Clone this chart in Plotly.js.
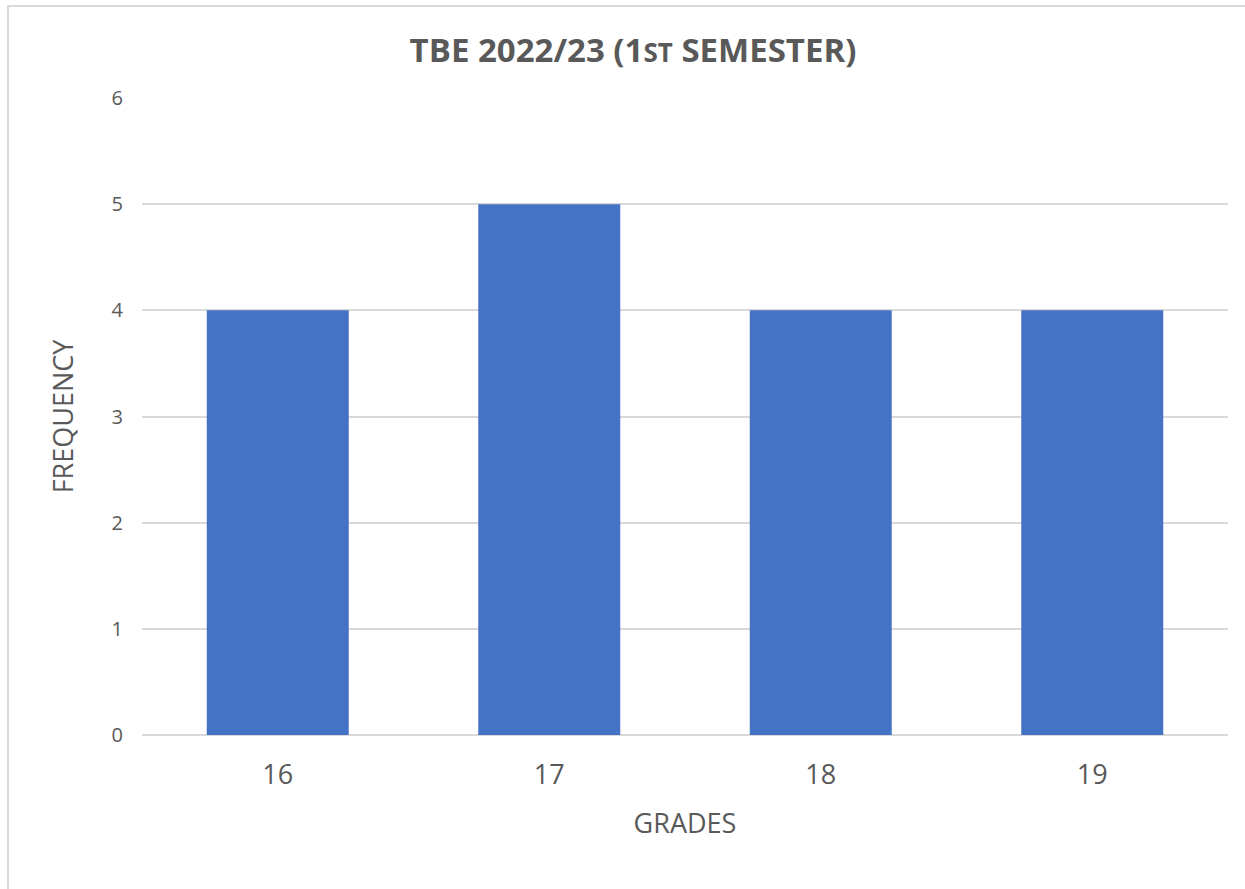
<!DOCTYPE html>
<html>
<head>
<meta charset="utf-8">
<script src="https://cdn.plot.ly/plotly-3.0.1.min.js"></script>
<style>
  html, body { margin: 0; padding: 0; background: #ffffff; }
  #frame { position: absolute; left: 7px; top: 5px; width: 1300px; height: 950px; border: 2px solid #d9d9d9; box-sizing: border-box; }
  #chart { position: absolute; left: 0; top: 0; width: 1245px; height: 889px; }
</style>
</head>
<body>
<div id="frame"></div>
<div id="chart"></div>
<script>
const grades = ['16', '17', '18', '19'];
const frequency = [4, 5, 4, 4];
const yTicks = [0, 1, 2, 3, 4, 5, 6];

const textColor = '#595959';
const font = 'Open Sans, Noto Sans, sans-serif';

const trace = {
  type: 'bar',
  x: grades,
  y: frequency,
  marker: { color: '#4472c4' },
  hoverinfo: 'x+y'
};

const layout = {
  width: 1245,
  height: 889,
  paper_bgcolor: 'rgba(0,0,0,0)',
  plot_bgcolor: 'rgba(0,0,0,0)',
  margin: { l: 142, r: 17, t: 98, b: 154 },
  bargap: 0.477,
  showlegend: false,
  title: {
    text: 'TBE 2022/23 (1<span style="font-size:26px">ST</span> SEMESTER)',
    font: { family: font, size: 33, color: textColor, weight: 'bold' },
    xref: 'container', x: 633 / 1245, xanchor: 'center',
    yref: 'container', y: 1 - 50 / 889, yanchor: 'middle'
  },
  xaxis: {
    type: 'category',
    showgrid: false,
    showline: false,
    zeroline: false,
    ticks: '',
    ticklabelstandoff: 21,
    tickfont: { family: font, size: 27, color: textColor },
    title: { text: 'GRADES', font: { family: font, size: 27, color: textColor }, standoff: 23 }
  },
  yaxis: {
    range: [0, 6],
    tickvals: yTicks,
    ticktext: yTicks.map(String),
    showgrid: true,
    gridcolor: '#d9d9d9',
    gridwidth: 2,
    zeroline: true,
    zerolinecolor: '#d9d9d9',
    zerolinewidth: 2,
    showline: false,
    ticks: '',
    ticklabelstandoff: 18,
    tickfont: { family: font, size: 20, color: textColor },
    title: { text: 'FREQUENCY', font: { family: font, size: 27, color: textColor }, standoff: 30 }
  }
};

Plotly.newPlot('chart', [trace], layout, { displayModeBar: false, responsive: false });
</script>
</body>
</html>
